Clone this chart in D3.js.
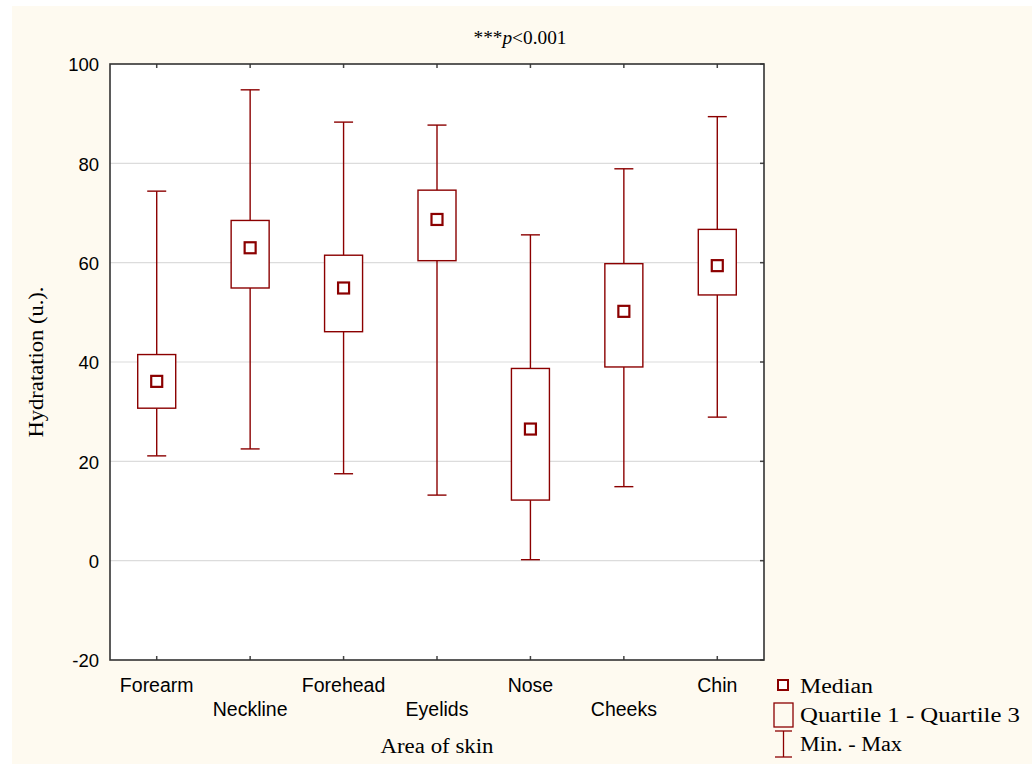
<!DOCTYPE html>
<html>
<head>
<meta charset="utf-8">
<script src="https://cdn.jsdelivr.net/npm/d3@7"></script>
<style>
  body { margin: 0; background: #ffffff; }
  svg { display: block; }
  .tick text { font-family: "Liberation Sans", Arial, sans-serif; fill: #000; }
  .serif { font-family: "Liberation Serif", "DejaVu Serif", serif; fill: #000; }
</style>
</head>
<body>
<svg id="chart" width="1032" height="764"></svg>
<script>
// values
var areas   = ["Forearm", "Neckline", "Forehead", "Eyelids", "Nose", "Cheeks", "Chin"];
var minVals = [21.1, 22.5, 17.5, 13.2, 0.2, 14.9, 28.9];
var q1Vals  = [30.7, 54.9, 46.1, 60.4, 12.2, 39.0, 53.5];
var medians = [36.1, 63.0, 54.9, 68.7, 26.5, 50.2, 59.4];
var q3Vals  = [41.5, 68.5, 61.5, 74.6, 38.7, 59.8, 66.7];
var maxVals = [74.4, 94.8, 88.3, 87.7, 65.6, 78.9, 89.4];
var yTicks  = [-20, 0, 20, 40, 60, 80, 100];

var dark = "#8b0000";

var svg = d3.select("#chart");

// cream page background
svg.append("rect")
    .attr("x", 12).attr("y", 6)
    .attr("width", 1020).attr("height", 758)
    .attr("fill", "#fefaf0");

var margin = {top: 64, left: 110, right: 268, bottom: 104},
    width = 1032 - margin.left - margin.right,
    height = 764 - margin.top - margin.bottom;

var g = svg.append("g").attr("transform", "translate(" + margin.left + "," + margin.top + ")");

var x = d3.scaleBand().domain(areas).range([0, width]).padding(0);
var y = d3.scaleLinear().domain([-20, 100]).range([height, 0]);

g.append("rect")
    .attr("width", width).attr("height", height)
    .attr("fill", "#ffffff");

// gridlines
g.append("g").selectAll("line")
    .data(yTicks.filter(d => d > -20 && d < 100))
    .join("line")
    .attr("x1", 0).attr("x2", width)
    .attr("y1", d => y(d)).attr("y2", d => y(d))
    .attr("stroke", "#dcdcdc").attr("stroke-width", 1.2);

// axes
var yAxis = g.append("g")
    .call(d3.axisLeft(y).tickValues(yTicks).tickFormat(d => String(d)).tickSize(0).tickPadding(11));
yAxis.select(".domain").remove();
yAxis.selectAll(".tick text").attr("dy", "0.36em").style("font-size", "18.5px");

var xAxis = g.append("g")
    .attr("transform", "translate(0," + height + ")")
    .call(d3.axisBottom(x).tickSize(0).tickPadding(0));
xAxis.select(".domain").remove();
xAxis.selectAll(".tick text")
    .style("font-size", "19.5px")
    .attr("y", (d, i) => i % 2 === 0 ? 32 : 56)
    .attr("dy", 0);

// inner tick marks
g.append("g").selectAll("line")
    .data(areas).join("line")
    .attr("x1", d => x(d) + x.bandwidth() / 2).attr("x2", d => x(d) + x.bandwidth() / 2)
    .attr("y1", 0).attr("y2", 4)
    .attr("stroke", "#444").attr("stroke-width", 1.5);
g.append("g").selectAll("line")
    .data(areas).join("line")
    .attr("x1", d => x(d) + x.bandwidth() / 2).attr("x2", d => x(d) + x.bandwidth() / 2)
    .attr("y1", height).attr("y2", height - 4)
    .attr("stroke", "#444").attr("stroke-width", 1.5);
g.append("g").selectAll("line")
    .data(yTicks).join("line")
    .attr("x1", width).attr("x2", width - 4)
    .attr("y1", d => y(d)).attr("y2", d => y(d))
    .attr("stroke", "#444").attr("stroke-width", 1.5);

// frame
g.append("rect")
    .attr("width", width).attr("height", height)
    .attr("fill", "none")
    .attr("stroke", "#333").attr("stroke-width", 1.6);

// boxes
var boxes = g.append("g").selectAll("g")
    .data(areas).join("g")
    .attr("transform", d => "translate(" + (x(d) + x.bandwidth() / 2) + ",0)");

var boxW = 38, capW = 19, medW = 11;

boxes.append("line")
    .attr("y1", (d, i) => y(maxVals[i])).attr("y2", (d, i) => y(q3Vals[i]))
    .attr("stroke", dark).attr("stroke-width", 1.4);
boxes.append("line")
    .attr("y1", (d, i) => y(q1Vals[i])).attr("y2", (d, i) => y(minVals[i]))
    .attr("stroke", dark).attr("stroke-width", 1.4);
boxes.append("line")
    .attr("x1", -capW / 2).attr("x2", capW / 2)
    .attr("y1", (d, i) => y(maxVals[i])).attr("y2", (d, i) => y(maxVals[i]))
    .attr("stroke", dark).attr("stroke-width", 1.4);
boxes.append("line")
    .attr("x1", -capW / 2).attr("x2", capW / 2)
    .attr("y1", (d, i) => y(minVals[i])).attr("y2", (d, i) => y(minVals[i]))
    .attr("stroke", dark).attr("stroke-width", 1.4);
boxes.append("rect")
    .attr("x", -boxW / 2).attr("width", boxW)
    .attr("y", (d, i) => y(q3Vals[i]))
    .attr("height", (d, i) => y(q1Vals[i]) - y(q3Vals[i]))
    .attr("fill", "#ffffff")
    .attr("stroke", dark).attr("stroke-width", 1.4);
boxes.append("rect")
    .attr("x", -medW / 2).attr("width", medW)
    .attr("y", (d, i) => y(medians[i]) - medW / 2)
    .attr("height", medW)
    .attr("fill", "#ffffff")
    .attr("stroke", dark).attr("stroke-width", 2.2);

// title and axis labels
var title = svg.append("text")
    .attr("class", "serif")
    .attr("x", 520).attr("y", 44)
    .attr("text-anchor", "middle")
    .attr("textLength", 93).attr("lengthAdjust", "spacingAndGlyphs")
    .style("font-size", "18px");
title.append("tspan").text("***");
title.append("tspan").style("font-style", "italic").text("p");
title.append("tspan").text("<0.001");

svg.append("text")
    .attr("class", "serif")
    .attr("transform", "translate(43," + (margin.top + height / 2) + ") rotate(-90)")
    .attr("text-anchor", "middle")
    .attr("textLength", 151).attr("lengthAdjust", "spacingAndGlyphs")
    .style("font-size", "20px")
    .text("Hydratation (u.).");

svg.append("text")
    .attr("class", "serif")
    .attr("x", 437).attr("y", 753)
    .attr("text-anchor", "middle")
    .attr("textLength", 113).attr("lengthAdjust", "spacingAndGlyphs")
    .style("font-size", "20px")
    .text("Area of skin");

// legend
var legend = svg.append("g").attr("transform", "translate(774,0)");
legend.append("rect")
    .attr("x", 4).attr("y", 680).attr("width", 10).attr("height", 10)
    .attr("fill", "#ffffff").attr("stroke", dark).attr("stroke-width", 2);
legend.append("rect")
    .attr("x", 0).attr("y", 703).attr("width", 19).attr("height", 24)
    .attr("fill", "none").attr("stroke", dark).attr("stroke-width", 1.3);
legend.append("line")
    .attr("x1", 9.5).attr("x2", 9.5).attr("y1", 731).attr("y2", 757)
    .attr("stroke", dark).attr("stroke-width", 1.3);
legend.append("line")
    .attr("x1", 1).attr("x2", 18).attr("y1", 731).attr("y2", 731)
    .attr("stroke", dark).attr("stroke-width", 1.3);
legend.append("line")
    .attr("x1", 1).attr("x2", 18).attr("y1", 757).attr("y2", 757)
    .attr("stroke", dark).attr("stroke-width", 1.3);

var legendLabels = ["Median", "Quartile 1 - Quartile 3", "Min. - Max"];
var legendLens = [73, 220, 102];
legend.selectAll("text.lab")
    .data(legendLabels).join("text")
    .attr("class", "serif lab")
    .attr("x", 26)
    .attr("y", (d, i) => 693 + i * 29)
    .attr("textLength", (d, i) => legendLens[i]).attr("lengthAdjust", "spacingAndGlyphs")
    .style("font-size", "20px")
    .text(d => d);
</script>
</body>
</html>
